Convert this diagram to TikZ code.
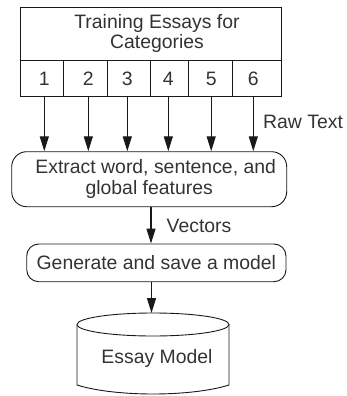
\documentclass[tikz,border=0pt]{standalone}
\usepackage{fontspec}
\setmainfont{Liberation Sans}
\usetikzlibrary{arrows.meta}
\begin{document}
\begin{tikzpicture}[x=1pt,y=-1pt,
  ink/.style={draw=black!90, line width=0.9pt},
  lbl/.style={font=\fontsize{19.4}{20.5}\selectfont, text=black!80, inner sep=0pt},
  cellbox/.style={ink, minimum height=36pt, inner sep=0pt, anchor=north west},
  proc/.style={ink, lbl, align=center, rounded corners=#1},
  arr/.style={draw=black!90, line width=1.3pt, -{Triangle[length=15pt,width=9pt]}}]
\useasboundingbox (0,0) rectangle (346,396);

% category table
\node[ink, minimum width=261.5pt, minimum height=52.7pt, inner sep=0pt, anchor=north west] (head) at (19.5,7.3) {};
\node[lbl, align=center] (htext) at (157,33.6) {Training Essays for\\Categories};
\node[cellbox, minimum width=43.8pt] (c1) at (19.5,60) {};
\node[cellbox, minimum width=43.4pt] (c2) at (63.3,60) {};
\node[cellbox, minimum width=43.3pt] (c3) at (106.7,60) {};
\node[cellbox, minimum width=38.3pt] (c4) at (150,60) {};
\node[cellbox, minimum width=43.4pt] (c5) at (188.3,60) {};
\node[cellbox, minimum width=49.3pt] (c6) at (231.7,60) {};
\node[lbl] (n1) at (44.3,78.7) {1};
\node[lbl] (n2) at (88.3,78.7) {2};
\node[lbl] (n3) at (127.3,78.7) {3};
\node[lbl] (n4) at (168.3,78.7) {4};
\node[lbl] (n5) at (211.2,78.7) {5};
\node[lbl] (n6) at (253.3,78.7) {6};

% processing steps
\node[proc=15pt, minimum width=275pt, minimum height=55pt] (ex) at (149.2,179.2)
  {\hspace*{13pt}Extract word, sentence, and\\global features};
\node[proc=12pt, minimum width=259.3pt, minimum height=37.7pt] (gen) at (156.35,262.85)
  {Generate and save a model};

% model store
\coordinate (dbtop) at (153,313);
\draw[ink] (77,324.5) arc[start angle=180, end angle=0, x radius=76pt, y radius=11.5pt]
  arc[start angle=0, end angle=-180, x radius=76pt, y radius=11.5pt];
\draw[ink] (77,324.5) -- (77,385) .. controls (115,397) and (191,397) .. (229,385) -- (229,324.5);
\node[lbl] (db) at (157,358.3) {Essay Model};

% connectors
\foreach \i in {1,...,6}
  \draw[arr] (n\i |- c\i.south) -- (n\i |- ex.north);
\node[lbl, anchor=west] (raw) at (263,122) {Raw Text};
\draw[arr] (ex.south -| 151,0) -- (gen.north -| 151,0);
\node[lbl, anchor=west] (vec) at (166.5,226) {Vectors};
\draw[arr] (gen.south -| 151.5,0) -- (dbtop -| 151.5,0);
\end{tikzpicture}
\end{document}
